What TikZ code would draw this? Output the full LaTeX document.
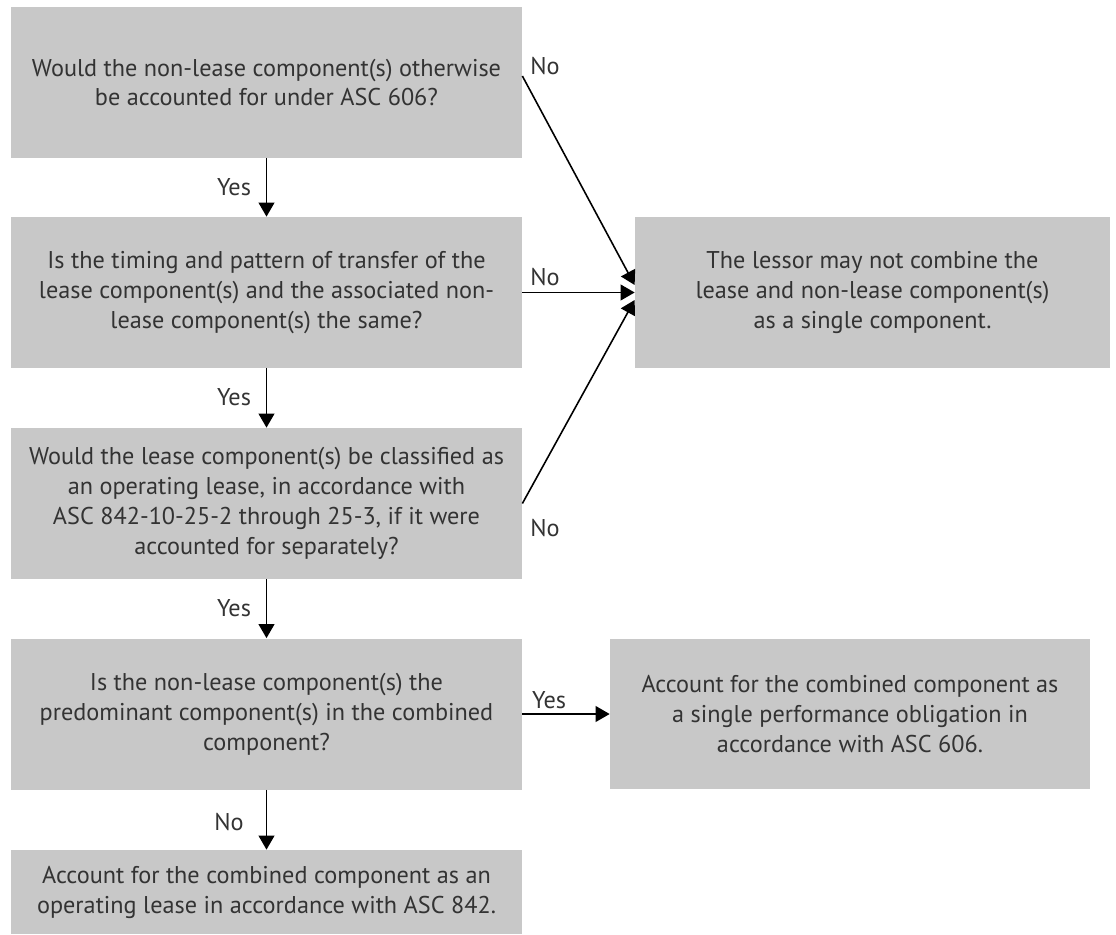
\documentclass[tikz,border=0pt]{standalone}
\usepackage{fontspec}
\setmainfont{PT Sans}
\usetikzlibrary{arrows.meta}
\definecolor{boxgray}{RGB}{200,200,200}
\definecolor{txtgray}{RGB}{51,51,51}

\begin{document}
\begin{tikzpicture}[
   box/.style={fill=boxgray,text=txtgray,align=center,inner sep=0pt,minimum width=10.22cm,minimum height=3.02cm,font=\fontsize{13.8}{17}\selectfont},
   lbl/.style={text=txtgray,inner sep=0pt,font=\fontsize{13.8}{17}\selectfont},
   arr/.style={-{Triangle[width=9pt,length=8pt]},line width=0.9pt}]
   \useasboundingbox (0,0) rectangle (22.32,-18.68);
   % questions down the left
   \node[box] (q1) at (5.33,-1.65) {Would the non-lease component(s) otherwise\\be accounted for under ASC 606?};
   \node[box] (q2) at (5.33,-5.85) {Is the timing and pattern of transfer of the\\lease component(s) and the associated non-\\lease component(s) the same?};
   \node[box] (q3) at (5.33,-10.07) {Would the lease component(s) be classified as\\an operating lease, in accordance with\\ASC 842-10-25-2 through 25-3, if it were\\accounted for separately?};
   \node[box] (q4) at (5.33,-14.28) {Is the non-lease component(s) the\\predominant component(s) in the combined\\component?};
   \node[box,minimum height=1.68cm] (op842) at (5.33,-17.84) {Account for the combined component as an\\operating lease in accordance with ASC 842.};
   % outcomes on the right
   \node[box,minimum width=9.5cm] (nocomb) at (17.45,-5.85) {The lessor may not combine the\\lease and non-lease component(s)\\as a single component.};
   \node[box,minimum width=9.6cm,minimum height=3.0cm] (asc606) at (17.0,-14.28) {Account for the combined component as\\a single performance obligation in\\accordance with ASC 606.};
   % answers
   \node[lbl] (noA) at (10.9,-1.32) {No};
   \node[lbl] (yesA) at (4.68,-3.74) {Yes};
   \node[lbl] (noB) at (10.9,-5.54) {No};
   \node[lbl] (yesB) at (4.68,-7.94) {Yes};
   \node[lbl] (noC) at (10.9,-10.56) {No};
   \node[lbl] (yesC) at (4.68,-12.16) {Yes};
   \node[lbl] (yesD) at (10.98,-14.0) {Yes};
   \node[lbl] (noD) at (4.58,-16.44) {No};
   % arrows
   \draw[arr] (q1) -- (q2);
   \draw[arr] (q2) -- (q3);
   \draw[arr] (q3) -- (q4);
   \draw[arr] (q4) -- (op842);
   \draw[arr] (q4) -- (asc606);
   \draw[arr] (q2) -- (nocomb);
   \draw[arr] ([yshift=0.13cm]q1.east) -- ([yshift=0.15cm]nocomb.west);
   \draw[arr] (q3.east) -- ([yshift=-0.15cm]nocomb.west);
\end{tikzpicture}
\end{document}
